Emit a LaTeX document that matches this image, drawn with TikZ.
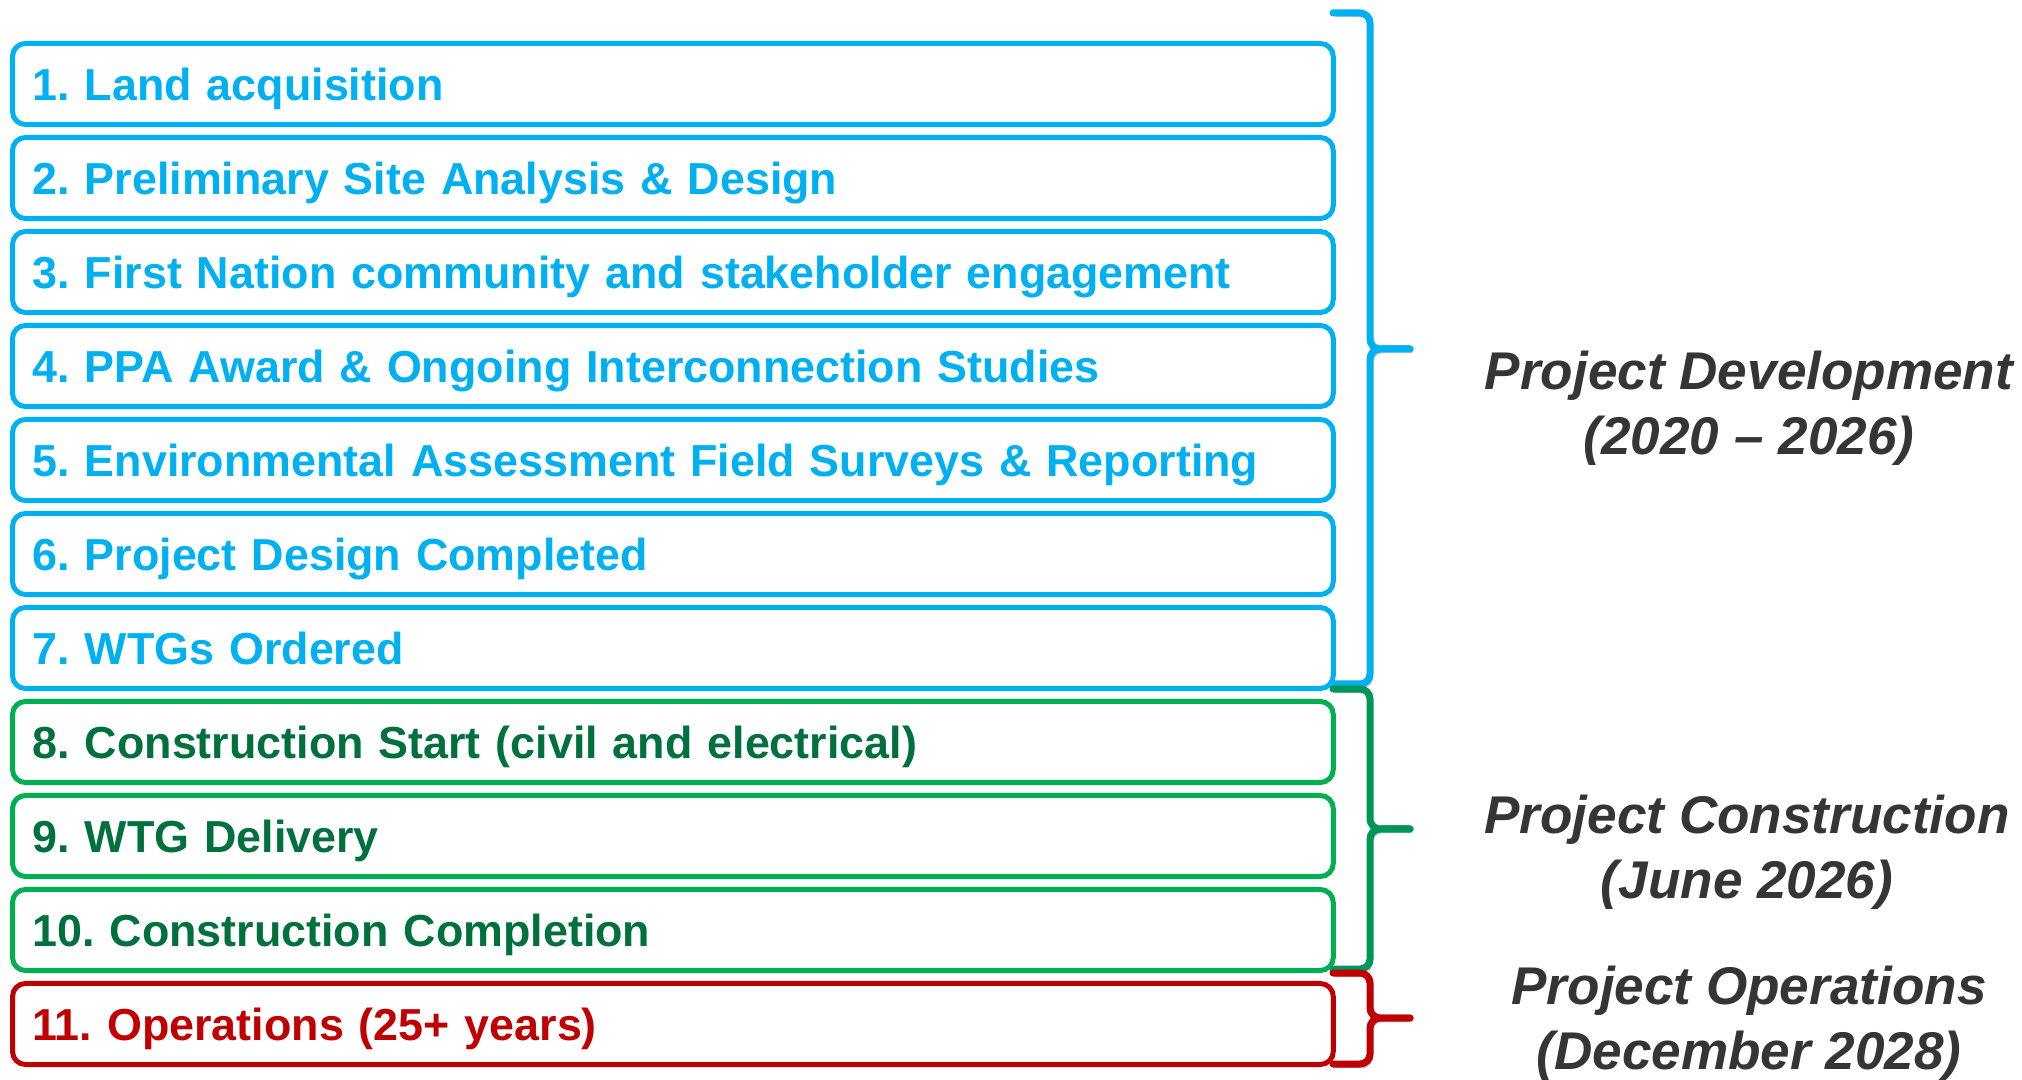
\documentclass[tikz,border=0pt]{standalone}
\usepackage{fontspec}
\setmainfont{Liberation Sans}
\usetikzlibrary{positioning}
\definecolor{devblue}{HTML}{00B0F0}
\definecolor{conline}{HTML}{00B050}
\definecolor{context}{HTML}{00703C}
\definecolor{conbrace}{HTML}{00965A}
\definecolor{opsred}{HTML}{C00000}
\definecolor{labelgrey}{HTML}{353535}
\tikzset{
    stage/.style={draw, rounded corners=0.13cm, line width=0.05cm, anchor=west,
        text width=12.8cm, inner xsep=0.2cm, inner ysep=0cm, minimum height=0.81cm,
        align=left, text height=0.33cm, text depth=0cm,
        font=\fontsize{12.75pt}{15pt}\selectfont\frenchspacing\bfseries},
    devstage/.style={stage, draw=devblue, text=devblue},
    constage/.style={stage, draw=conline, text=context},
    opsstage/.style={stage, draw=opsred, text=opsred},
    phasebrace/.style={line width=0.07cm, rounded corners=0.1cm, line cap=round,
        preaction={draw=black!22, transform canvas={xshift=0.7pt, yshift=-1pt}}},
    phaselabel/.style={align=center, text=labelgrey,
        font=\fontsize{15.1pt}{18.5pt}\selectfont\bfseries\itshape},
}

\begin{document}
\begin{tikzpicture}[x=0.01cm, y=-0.01cm]
		\useasboundingbox (0,0) rectangle (2022,1080);
		% Development stages
		\node[devstage] (land) at (10,84) {1. Land acquisition};
		\node[devstage] (site) at (10,178) {2. Preliminary Site Analysis \& Design};
		\node[devstage] (engage) at (10,272) {3. First Nation community and stakeholder engagement};
		\node[devstage] (ppa) at (10,366) {4. PPA Award \& Ongoing Interconnection Studies};
		\node[devstage] (survey) at (10,460) {5. Environmental Assessment Field Surveys \& Reporting};
		\node[devstage] (design) at (10,554) {6. Project Design Completed};
		\node[devstage] (order) at (10,648) {7. WTGs Ordered};
		% Construction stages
		\node[constage] (start) at (10,742) {8. Construction Start (civil and electrical)};
		\node[constage] (delivery) at (10,836) {9. WTG Delivery};
		\node[constage] (complete) at (10,930) {10. Construction Completion};
		% Operations stage
		\node[opsstage] (ops) at (10,1024) {11. Operations (25+ years)};
		% Braces
		\draw[phasebrace, draw=devblue] (1333,13) -- (1370,13) -- (1370,349) -- (1410,349);
		\draw[phasebrace, draw=devblue] (1410,349) -- (1370,349) -- (1370,684) -- (1333,684);
		\draw[phasebrace, draw=conbrace] (1333,689) -- (1370,689) -- (1370,829) -- (1410,829);
		\draw[phasebrace, draw=conbrace] (1410,829) -- (1370,829) -- (1370,969) -- (1333,969);
		\draw[phasebrace, draw=opsred] (1333,973) -- (1370,973) -- (1370,1018) -- (1410,1018);
		\draw[phasebrace, draw=opsred] (1410,1018) -- (1370,1018) -- (1370,1064) -- (1333,1064);
		% Phase labels
		\node[phaselabel] (devlabel) at (1749,408) {Project Development\\(2020 -- 2026)};
		\node[phaselabel] (conlabel) at (1747,852) {Project Construction\\(June 2026)};
		\node[phaselabel] (opslabel) at (1749,1023) {Project Operations\\(December 2028)};
	\end{tikzpicture}
\end{document}
